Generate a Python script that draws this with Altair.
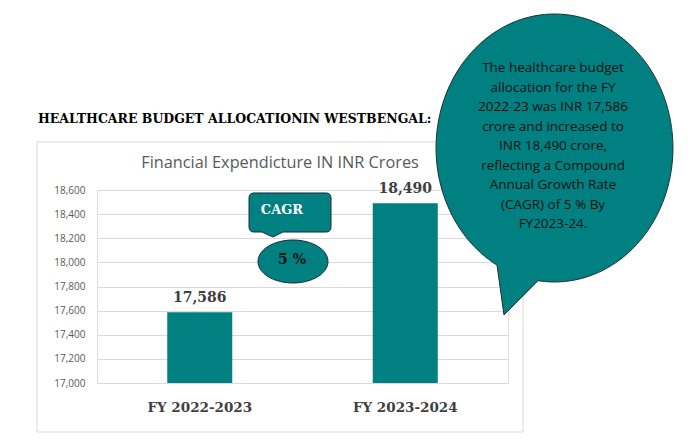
import math
import altair as alt
import pandas as pd

# ---- data ----
categories = ["FY 2022-2023", "FY 2023-2024"]
values = [17586, 18490]
value_labels = ["17,586", "18,490"]
y_ticks = [17000, 17200, 17400, 17600, 17800, 18000, 18200, 18400, 18600]
y_domain = [17000, 18600]

page_title = "HEALTHCARE BUDGET ALLOCATIONIN WESTBENGAL:"
chart_title = "Financial Expendicture IN INR Crores"
cagr_label = "CAGR"
cagr_value = "5 %"
bubble_lines = [
    "The healthcare budget",
    "allocation for the FY",
    "2022-23  was INR 17,586",
    "crore and increased to",
    "INR 18,490 crore,",
    "reflecting a Compound",
    "Annual Growth Rate",
    "(CAGR) of 5 % By",
    "FY2023-24.",
]

TEAL = "#008080"
SERIF = "DejaVu Serif"
SANS = "Open Sans"

df = pd.DataFrame({"cat": categories, "val": values, "label": value_labels,
                   "base": [y_domain[0]] * len(values)})
one = pd.DataFrame({"k": [0]})

W, H = 411, 193

x_enc = alt.X("cat:N", sort=categories,
              scale=alt.Scale(paddingInner=0, paddingOuter=0),
              axis=alt.Axis(title=None, labelAngle=0, ticks=False, domain=False,
                            labelPadding=17, labelFont=SERIF, labelFontSize=13.5,
                            labelFontWeight="bold", labelColor="#404040", grid=False))
y_enc = alt.Y("val:Q", scale=alt.Scale(domain=y_domain, zero=False, nice=False),
              axis=alt.Axis(title=None, values=y_ticks, format=",d", ticks=False,
                            domain=False, labelPadding=12, labelFont=SANS,
                            labelFontSize=10, labelColor="#595959",
                            gridColor="#d9d9d9", gridWidth=1, labelOverlap=False))

frame = alt.Chart(one).mark_rect(fill=None, stroke="#d9d9d9", strokeWidth=1).encode(
    x=alt.value(-60), x2=alt.value(426), y=alt.value(-48), y2=alt.value(242))

bars = alt.Chart(df).mark_bar(size=65, color=TEAL).encode(
    x=x_enc, y=y_enc, y2="base:Q")

labels = alt.Chart(df).mark_text(font=SERIF, fontSize=14, fontWeight="bold",
                                 color="#404040", baseline="middle", dy=-14).encode(
    x=x_enc, y=y_enc, text="label:N")

title_txt = alt.Chart(one).mark_text(text=page_title, font=SERIF, fontSize=12.5,
                                     fontWeight="bold", color="#000000",
                                     align="left", baseline="middle").encode(
    x=alt.value(-59), y=alt.value(-71))

inner_title = alt.Chart(one).mark_text(text=chart_title, font=SANS, fontSize=16.3,
                                       color="#595959", align="center",
                                       baseline="middle").encode(
    x=alt.value(183), y=alt.value(-27))

cagr_path = ("M -0.878 -0.476 L 0.878 -0.476 Q 1 -0.476 1 -0.354 L 1 0.354 "
             "Q 1 0.476 0.878 0.476 L -0.171 0.476 L -0.415 0.598 L -0.683 0.476 "
             "L -0.878 0.476 Q -1 0.476 -1 0.354 L -1 -0.354 Q -1 -0.476 -0.878 -0.476 Z")
cagr_box = alt.Chart(one).mark_point(shape=cagr_path, size=6724, filled=True,
                                     fill=TEAL, stroke="#1b2a3a", strokeWidth=1,
                                     opacity=1).encode(
    x=alt.value(193), y=alt.value(22.5))
cagr_txt = alt.Chart(one).mark_text(text=cagr_label, font=SERIF, fontSize=13,
                                    fontWeight="bold", color="#ffffff",
                                    baseline="middle").encode(
    x=alt.value(185), y=alt.value(20))

ell_path = "M -1 0 A 1 0.614 0 1 1 1 0 A 1 0.614 0 1 1 -1 0 Z"
ell = alt.Chart(one).mark_point(shape=ell_path, size=4900, filled=True, fill=TEAL,
                                stroke="#1b2a3a", strokeWidth=1, opacity=1).encode(
    x=alt.value(196), y=alt.value(71.5))
ell_txt = alt.Chart(one).mark_text(text=cagr_value, font=SERIF, fontSize=14,
                                   fontWeight="bold", color="#111111",
                                   baseline="middle").encode(
    x=alt.value(195), y=alt.value(70))

# speech bubble outline (ellipse with tail), unit = vertical radius
A_R, B_R = 0.884, 1.0


def ept(deg):
    t = math.radians(deg)
    return f"{A_R * math.cos(t):.5f} {B_R * math.sin(t):.5f}"


t1 = math.degrees(math.acos(-0.4852))   # tail start on lower-left
t3 = math.degrees(math.acos(-0.1392))   # tail end near bottom
bubble_path = (f"M {ept(t1)} "
               f"A {A_R} {B_R} 0 0 1 {ept(270)} "
               f"A {A_R} {B_R} 0 0 1 {ept(360)} "
               f"A {A_R} {B_R} 0 0 1 {ept(t3)} "
               f"L -0.377 1.246 Z")
bubble = alt.Chart(one).mark_point(shape=bubble_path, size=71824, filled=True,
                                   fill=TEAL, stroke="#1f3030", strokeWidth=1,
                                   opacity=1).encode(
    x=alt.value(457.5), y=alt.value(-42))
bubble_txt = alt.Chart(one).mark_text(text=bubble_lines, font=SANS, fontSize=13.5,
                                      color="#111111", align="center",
                                      baseline="middle", lineHeight=19.5).encode(
    x=alt.value(456), y=alt.value(-122))

chart = alt.layer(frame, bars, labels, title_txt, inner_title, cagr_box, cagr_txt,
                  ell, ell_txt, bubble, bubble_txt).properties(
    width=W, height=H,
    autosize=alt.AutoSizeParams(type="none"),
    padding={"left": 89, "top": 182, "right": 182, "bottom": 52},
).configure_view(stroke=None).configure(background="#ffffff")

chart.save("out.html", embed_options={"renderer": "svg", "actions": False})
